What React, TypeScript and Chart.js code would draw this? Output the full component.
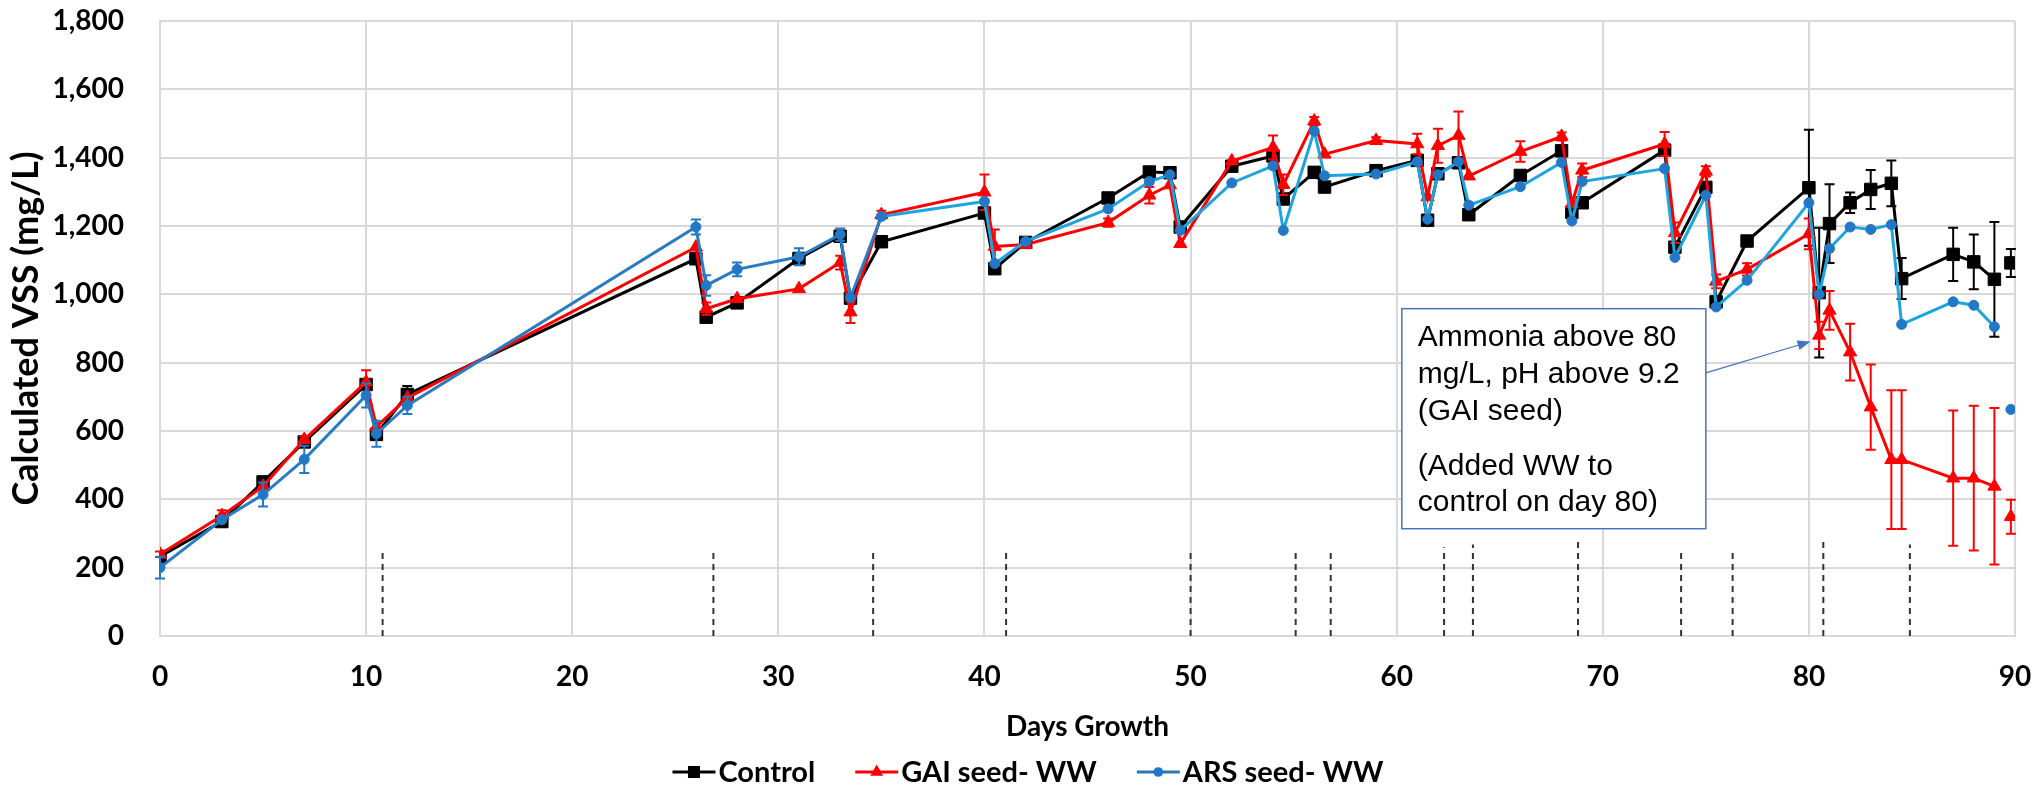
import React, { useEffect, useRef } from 'react';
import { Chart, registerables } from 'chart.js';

Chart.register(...registerables);

// ---------------- data ----------------
const DAYS = [
  0, 3, 5, 7, 10, 10.5, 12,
  26, 26.5, 28, 31, 33, 33.5, 35,
  40, 40.5, 42, 46, 48, 49, 49.5,
  52, 54, 54.5, 56, 56.5, 59,
  61, 61.5, 62, 63, 63.5, 66,
  68, 68.5, 69, 73, 73.5, 75, 75.5, 77,
  80, 80.5, 81, 82, 83, 84, 84.5,
  87, 88, 89, 89.4, 89.8,
];

const CONTROL = [
  233, 335, 451, 568, 736, 590, 707,
  1104, 933, 975, 1105, 1170, 989, 1154,
  1238, 1075, 1152, 1282, 1358, 1356, 1197,
  1375, 1405, 1279, 1357, 1314, 1362,
  1392, 1217, 1353, 1385, 1233, 1348,
  1420, 1240, 1268, 1422, 1138, 1313, 978, 1156,
  1312, 1005, 1207, 1268, 1307, 1325, 1046,
  1117, 1095, 1044, null, 1092,
];
const CONTROL_ERR = [
  0, 0, 0, 0, 0, 0, 25,
  0, 0, 0, 0, 0, 0, 0,
  0, 0, 0, 0, 0, 0, 0,
  0, 0, 0, 0, 0, 0,
  0, 0, 0, 0, 0, 0,
  0, 0, 0, 0, 0, 0, 0, 0,
  170, 190, 115, 30, 57, 67, 60,
  78, 80, 168, 0, 41,
];

const GAI = [
  239, 352, 438, 575, 743, 612, 697,
  1138, 958, 987, 1016, 1093, 948, 1233,
  1299, 1140, 1146, 1210, 1290, 1320, 1148,
  1390, 1430, 1321, 1507, 1410, 1450,
  1440, 1285, 1435, 1465, 1346, 1418,
  1462, 1265, 1363, 1440, 1180, 1360, 1038, 1073,
  1177, 880, 953, 831, 670, 516, 516,
  462, 462, 438, null, 349,
];
const GAI_ERR = [
  8, 16, 0, 10, 35, 0, 0,
  0, 18, 0, 0, 20, 32, 12,
  52, 50, 10, 12, 24, 0, 0,
  0, 35, 30, 12, 0, 10,
  30, 0, 50, 70, 0, 30,
  12, 0, 20, 35, 30, 15, 20, 18,
  45, 40, 57, 83, 125, 203, 203,
  198, 212, 229, 0, 50,
];

const ARS = [
  200, 340, 414, 517, 704, 592, 675,
  1197, 1026, 1073, 1110, 1175, 990, 1228,
  1272, 1090, 1155, 1250, 1330, 1350, 1187,
  1326, 1376, 1187, 1478, 1347, 1352,
  1388, 1220, 1350, 1388, 1261, 1315,
  1386, 1215, 1330, 1368, 1108, 1290, 963, 1041,
  1268, 1000, 1134, 1197, 1190, 1204, 912,
  978, 968, 905, null, 663,
];
const ARS_ERR = [
  32, 0, 35, 40, 35, 38, 25,
  22, 30, 20, 25, 18, 0, 0,
  0, 0, 0, 0, 0, 0, 0,
  0, 0, 0, 0, 0, 0,
  0, 0, 0, 0, 0, 0,
  0, 0, 0, 0, 0, 0, 0, 0,
  0, 0, 0, 0, 0, 0, 0,
  0, 0, 0, 0, 0,
];

// feeding-event markers (dashed verticals)
const EVENT_DAYS = [10.8, 26.85, 34.6, 41.05, 50.0, 55.1, 56.8, 62.3, 63.7, 68.8, 73.8, 76.3, 80.7, 84.9];
const EVENT_TOPS = [250, 245, 248, 255, 255, 255, 257, 260, 268, 280, 253, 245, 275, 268];

const SERIES_LABELS = ['Control', 'GAI seed- WW', 'ARS seed- WW'];
const X_TICK_MAX = 90;
const Y_TICK_MAX = 1800;

const NOTE_PARAGRAPHS = [
  ['Ammonia above 80', 'mg/L, pH above 9.2', '(GAI seed)'],
  ['(Added WW to', 'control on day 80)'],
];

// ---------------- styling / layout (not data) ----------------
const BLACK = '#000000';
const RED = '#FF0000';
const BLUE_MARK = '#2277C6';
const BLUE_EARLY = '#2A7BC2';
const BLUE_LATE = '#1EA5DF';
const NOTE_BLUE = '#4472C4';
const TICK_FONT = { family: 'Lato', size: 28, weight: 'bold' as const };
const NOTE_BOX = { dayMin: 60.25, dayMax: 75.0, vTop: 958, vBottom: 314 };
const ARROW = { fromDay: 75.0, fromV: 770, toDay: 80.08, toV: 862 };

const pts = (vals: (number | null)[]) => DAYS.map((d, i) => ({ x: d, y: vals[i] }));

const eventData: { x: number; y: number | null }[] = [];
EVENT_DAYS.forEach((d, i) => {
  eventData.push({ x: d, y: 0 }, { x: d, y: EVENT_TOPS[i] }, { x: d, y: null });
});

function drawMarker(ctx: CanvasRenderingContext2D, style: string, x: number, y: number, color: string) {
  ctx.fillStyle = color;
  ctx.beginPath();
  if (style === 'rect') {
    ctx.rect(x - 6, y - 6, 12, 12);
  } else if (style === 'triangle') {
    ctx.moveTo(x, y - 7.5);
    ctx.lineTo(x + 6.5, y + 3.75);
    ctx.lineTo(x - 6.5, y + 3.75);
    ctx.closePath();
  } else {
    ctx.arc(x, y, 4.8, 0, Math.PI * 2);
  }
  ctx.fill();
}

const errorBarPlugin = {
  id: 'errorBars',
  beforeDatasetDraw(chart: any, args: any) {
    const ds = chart.data.datasets[args.index];
    const errs: number[] | undefined = ds.errorBars;
    if (!errs) return;
    const yScale = chart.scales.y;
    const ctx: CanvasRenderingContext2D = chart.ctx;
    ctx.save();
    ctx.strokeStyle = ds.errorColor;
    ctx.lineWidth = 2;
    ctx.beginPath();
    args.meta.data.forEach((el: any, i: number) => {
      const e = errs[i];
      const v = ds.data[i].y;
      if (!e || v == null) return;
      const x = el.x;
      const yt = yScale.getPixelForValue(v + e);
      const yb = yScale.getPixelForValue(v - e);
      ctx.moveTo(x, yt); ctx.lineTo(x, yb);
      ctx.moveTo(x - 5, yt); ctx.lineTo(x + 5, yt);
      ctx.moveTo(x - 5, yb); ctx.lineTo(x + 5, yb);
    });
    ctx.stroke();
    ctx.restore();
  },
};

const notePlugin = {
  id: 'note',
  afterDatasetsDraw(chart: any) {
    const { ctx, scales } = chart;
    const xs = scales.x, ys = scales.y;
    const l = xs.getPixelForValue(NOTE_BOX.dayMin);
    const r = xs.getPixelForValue(NOTE_BOX.dayMax);
    const t = ys.getPixelForValue(NOTE_BOX.vTop);
    const b = ys.getPixelForValue(NOTE_BOX.vBottom);
    ctx.save();
    // arrow
    const fx = xs.getPixelForValue(ARROW.fromDay), fy = ys.getPixelForValue(ARROW.fromV);
    const tx = xs.getPixelForValue(ARROW.toDay), ty = ys.getPixelForValue(ARROW.toV);
    const ang = Math.atan2(ty - fy, tx - fx);
    const hl = 13, hw = 5;
    const bx = tx - Math.cos(ang) * hl, by = ty - Math.sin(ang) * hl;
    ctx.strokeStyle = NOTE_BLUE;
    ctx.lineWidth = 1.2;
    ctx.beginPath(); ctx.moveTo(fx, fy); ctx.lineTo(bx, by); ctx.stroke();
    ctx.fillStyle = NOTE_BLUE;
    ctx.beginPath();
    ctx.moveTo(tx, ty);
    ctx.lineTo(bx + Math.sin(ang) * hw, by - Math.cos(ang) * hw);
    ctx.lineTo(bx - Math.sin(ang) * hw, by + Math.cos(ang) * hw);
    ctx.closePath(); ctx.fill();
    // box
    ctx.fillStyle = '#FFFFFF';
    ctx.fillRect(l, t, r - l, b - t);
    ctx.strokeStyle = NOTE_BLUE;
    ctx.lineWidth = 1.5;
    ctx.strokeRect(l, t, r - l, b - t);
    // text
    ctx.fillStyle = '#000000';
    ctx.font = '30px "Liberation Sans", Arial, sans-serif';
    ctx.textAlign = 'left';
    ctx.textBaseline = 'alphabetic';
    let y = t + 37.7;
    NOTE_PARAGRAPHS.forEach((para, pi) => {
      if (pi > 0) y += 18.3;
      para.forEach((line) => {
        ctx.fillText(line, l + 16, y);
        y += 36.7;
      });
    });
    ctx.restore();
  },
};

const legendPlugin = {
  id: 'excelLegend',
  afterDraw(chart: any) {
    const ctx: CanvasRenderingContext2D = chart.ctx;
    const items = chart.data.datasets.filter((d: any) => d.legendMarker);
    ctx.save();
    ctx.font = 'bold 29px Lato';
    ctx.textBaseline = 'middle';
    ctx.textAlign = 'left';
    const lineW = 43, gapLT = 3, gapItem = 40;
    const widths = items.map((d: any) => lineW + gapLT + ctx.measureText(d.label).width);
    const total = widths.reduce((a: number, b: number) => a + b, 0) + gapItem * (items.length - 1);
    let x = 1028 - total / 2;
    const y = 772;
    items.forEach((d: any, i: number) => {
      ctx.strokeStyle = d.legendLine;
      ctx.lineWidth = 3;
      ctx.beginPath(); ctx.moveTo(x, y); ctx.lineTo(x + lineW, y); ctx.stroke();
      drawMarker(ctx, d.legendMarker, x + lineW / 2, y, d.pointBackgroundColor);
      ctx.fillStyle = '#000';
      ctx.fillText(d.label, x + lineW + gapLT, y + 1);
      x += widths[i] + gapItem;
    });
    ctx.restore();
  },
};

export default function App() {
  const ref = useRef<HTMLCanvasElement>(null);
  useEffect(() => {
    document.body.style.margin = '0';
    if (!ref.current) return;
    const chart = new Chart(ref.current, {
      type: 'line',
      data: {
        datasets: [
          {
            label: 'events',
            data: eventData,
            borderColor: '#333333',
            borderWidth: 2,
            borderDash: [6, 5],
            pointRadius: 0,
            spanGaps: false,
            order: 4,
          } as any,
          {
            label: SERIES_LABELS[0],
            data: pts(CONTROL),
            borderColor: BLACK,
            borderWidth: 3,
            pointStyle: 'rect',
            pointRadius: 8.8,
            pointBackgroundColor: BLACK,
            pointBorderColor: BLACK,
            pointBorderWidth: 1,
            spanGaps: false,
            order: 3,
            errorBars: CONTROL_ERR,
            errorColor: BLACK,
            legendMarker: 'rect',
            legendLine: BLACK,
          } as any,
          {
            label: SERIES_LABELS[1],
            data: pts(GAI),
            borderColor: RED,
            borderWidth: 3,
            pointStyle: 'triangle',
            pointRadius: 7.6,
            pointBackgroundColor: RED,
            pointBorderColor: RED,
            pointBorderWidth: 1,
            spanGaps: false,
            order: 2,
            errorBars: GAI_ERR,
            errorColor: RED,
            legendMarker: 'triangle',
            legendLine: RED,
          } as any,
          {
            label: SERIES_LABELS[2],
            data: pts(ARS),
            borderColor: BLUE_EARLY,
            borderWidth: 3,
            segment: {
              borderColor: (c: any) => (c.p0.parsed.x >= 35 ? BLUE_LATE : BLUE_EARLY),
            },
            pointStyle: 'circle',
            pointRadius: 5,
            pointBackgroundColor: BLUE_MARK,
            pointBorderColor: BLUE_MARK,
            pointBorderWidth: 1,
            spanGaps: false,
            order: 1,
            errorBars: ARS_ERR,
            errorColor: BLUE_MARK,
            legendMarker: 'circle',
            legendLine: '#2E75B6',
          } as any,
        ],
      },
      options: {
        responsive: false,
        animation: false,
        layout: { padding: { left: 0, right: 27, top: 21, bottom: 0 } },
        plugins: { legend: { display: false }, tooltip: { enabled: false } },
        elements: { line: { tension: 0 } },
        scales: {
          x: {
            type: 'linear',
            min: 0,
            max: X_TICK_MAX,
            afterFit: (s: any) => {
              s.height = 151;
              s.paddingLeft = 0;
              s.paddingRight = 0;
            },
            ticks: { stepSize: 10, color: '#000', font: TICK_FONT, padding: 24 },
            grid: { color: '#D9D9D9', lineWidth: 2, drawTicks: false },
            border: { color: '#D9D9D9', width: 2 },
            title: {
              display: true,
              text: 'Days Growth',
              color: '#000',
              font: { family: 'Lato', size: 28, weight: 'bold' },
              padding: { top: 0, bottom: 43 },
            },
          },
          y: {
            type: 'linear',
            min: 0,
            max: Y_TICK_MAX,
            afterFit: (s: any) => {
              s.width = 160;
              s.paddingTop = 0;
              s.paddingBottom = 0;
            },
            ticks: {
              stepSize: 200,
              color: '#000',
              font: TICK_FONT,
              padding: 36,
              callback: (v: any) => Number(v).toLocaleString('en-US'),
            },
            grid: { color: '#D9D9D9', lineWidth: 2, drawTicks: false },
            border: { color: '#D9D9D9', width: 2 },
            title: {
              display: true,
              text: 'Calculated VSS (mg/L)',
              color: '#000',
              font: { family: 'Lato', size: 36, weight: 'bold' },
              padding: { top: 5, bottom: 0 },
            },
          },
        },
      } as any,
      plugins: [errorBarPlugin, notePlugin, legendPlugin],
    });
    return () => chart.destroy();
  }, []);
  return (
    <div style={{ width: 2042, height: 787 }}>
      <canvas ref={ref} width={2042} height={787} style={{ display: 'block' }} />
    </div>
  );
}
